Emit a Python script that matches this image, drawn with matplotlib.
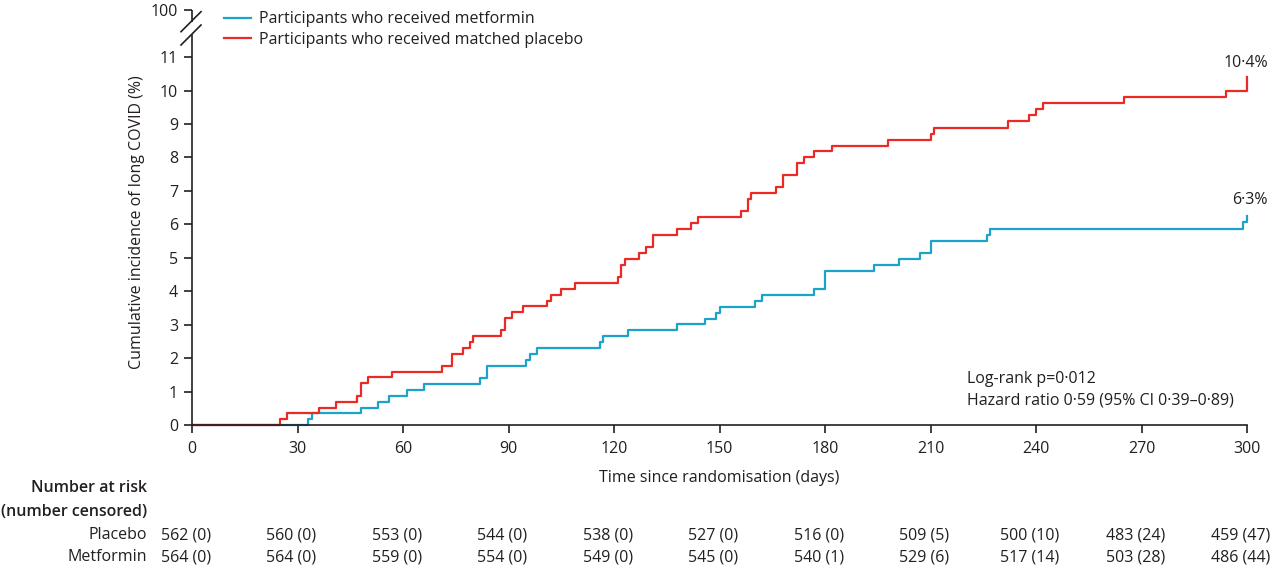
import matplotlib
matplotlib.use("Agg")
import matplotlib.pyplot as plt
from matplotlib.lines import Line2D
from matplotlib.transforms import blended_transform_factory, offset_copy

plt.rcParams['font.family'] = ['Open Sans', 'DejaVu Sans']

# Kaplan-Meier style cumulative incidence (%)
placebo_days = [0, 25, 27, 36, 41, 47, 48, 50, 57, 71, 74, 77, 79, 80, 88, 89, 91, 94,
                101, 102, 105, 109, 121, 122, 123, 127, 129, 131, 138, 142, 144, 156,
                158, 159, 166, 168, 172, 174, 177, 182, 198, 210, 211, 232, 238, 240,
                242, 265, 294, 300]
placebo_inc = [0, 0.18, 0.36, 0.53, 0.71, 0.89, 1.25, 1.43, 1.60, 1.78, 2.14, 2.31, 2.49,
               2.67, 2.85, 3.20, 3.38, 3.56, 3.72, 3.90, 4.08, 4.26, 4.44, 4.80, 4.98,
               5.16, 5.33, 5.69, 5.86, 6.04, 6.22, 6.40, 6.75, 6.93, 7.11, 7.47, 7.83,
               8.00, 8.18, 8.35, 8.53, 8.71, 8.89, 9.09, 9.26, 9.44, 9.63, 9.81, 9.99,
               10.39]

metformin_days = [0, 33, 34, 48, 53, 56, 61, 66, 82, 84, 95, 96, 98, 116, 117, 124, 138,
                  146, 149, 150, 160, 162, 177, 180, 194, 201, 207, 210, 226, 227, 299, 300]
metformin_inc = [0, 0.18, 0.36, 0.53, 0.71, 0.89, 1.06, 1.24, 1.42, 1.77, 1.95, 2.13,
                 2.30, 2.48, 2.66, 2.84, 3.02, 3.18, 3.36, 3.54, 3.72, 3.90, 4.08, 4.62,
                 4.80, 4.98, 5.16, 5.50, 5.68, 5.86, 6.06, 6.25]

# number at risk table
risk_days = [0, 30, 60, 90, 120, 150, 180, 210, 240, 270, 300]
placebo_risk = [562, 560, 553, 544, 538, 527, 516, 509, 500, 483, 459]
placebo_cens = [0, 0, 0, 0, 0, 0, 0, 5, 10, 24, 47]
metformin_risk = [564, 564, 559, 554, 549, 545, 540, 529, 517, 503, 486]
metformin_cens = [0, 0, 0, 0, 0, 0, 1, 6, 14, 28, 44]

final_labels = ['10·4%', '6·3%']

red = '#ec2a25'
blue = '#1ba3c9'
ink = '#231f20'
fs = 11.5
W, H = 1280, 568

fig = plt.figure(figsize=(12.8, 5.68), dpi=100)
ax = fig.add_axes([192 / W, 1 - 425.3 / H, (1247 - 192) / W, (425.3 - 10.2) / H])

ax.step(metformin_days, metformin_inc, where='post', color=blue, lw=1.6, clip_on=False)
ax.step(placebo_days, placebo_inc, where='post', color=red, lw=1.6, clip_on=False)

ax.set_xlim(0, 300)
ax.set_ylim(0, 12.4)
ax.set_xticks(risk_days)
ax.set_yticks(list(range(12)) + [12.4])
ax.set_yticklabels([str(i) for i in range(12)] + ['100'])
ax.tick_params(axis='both', direction='out', length=6, width=1.2, labelsize=fs,
               colors=ink)
ax.tick_params(axis='x', pad=5)
ax.tick_params(axis='y', pad=4)
for s in ['top', 'right']:
    ax.spines[s].set_visible(False)
for s in ['left', 'bottom']:
    ax.spines[s].set_linewidth(1.2)
    ax.spines[s].set_color(ink)
ax.spines['left'].set_bounds(0, 11.66)
ax.plot([0, 0], [12.06, 12.4], color=ink, lw=1.2, clip_on=False,
        solid_capstyle='butt')


def px(x, y):
    return x / W, 1 - y / H


# axis break marks
for y0 in [31.7, 45]:
    (x1, y1), (x2, y2) = px(181, y0), px(201, y0 - 20)
    fig.add_artist(Line2D([x1, x2], [y1, y2], transform=fig.transFigure,
                          color=ink, lw=1.2))

ax.set_xlabel('Time since randomisation (days)', fontsize=fs, color=ink, labelpad=10)
ax.set_ylabel('Cumulative incidence of long COVID (%)', fontsize=fs, color=ink)
ax.yaxis.set_label_coords(-0.045, 0.49)

# end labels
ax.text(306, 10.82, final_labels[0], ha='right', va='center', fontsize=fs,
        color=ink, clip_on=False)
ax.text(306, 6.73, final_labels[1], ha='right', va='center', fontsize=fs,
        color=ink, clip_on=False)

ax.text(0.735, 0.112, 'Log-rank p=0·012', transform=ax.transAxes, fontsize=fs,
        color=ink, va='center')
ax.text(0.735, 0.060, 'Hazard ratio 0·59 (95% CI 0·39–0·89)', transform=ax.transAxes,
        fontsize=fs, color=ink, va='center')

handles = [Line2D([], [], color=blue, lw=1.6), Line2D([], [], color=red, lw=1.6)]
fig.legend(handles, ['Participants who received metformin',
                     'Participants who received matched placebo'],
           loc='upper left', bbox_to_anchor=px(213, 0), frameon=False, fontsize=fs,
           handlelength=1.7, handletextpad=0.5, labelspacing=0.3, borderpad=0.2,
           labelcolor=ink)

# number at risk table
tr = offset_copy(blended_transform_factory(ax.transData, fig.transFigure), fig=fig,
                 x=-6, y=0, units='dots')
lab_x = 147 / W
fig.text(lab_x, 1 - 488 / H, 'Number at risk', ha='right', va='center', fontsize=fs,
         fontweight='semibold', color=ink)
fig.text(lab_x, 1 - 512 / H, '(number censored)', ha='right', va='center', fontsize=fs,
         fontweight='semibold', color=ink)
fig.text(lab_x, 1 - 535 / H, 'Placebo', ha='right', va='center', fontsize=fs, color=ink)
fig.text(lab_x, 1 - 557 / H, 'Metformin', ha='right', va='center', fontsize=fs,
         color=ink)
for d, n, c in zip(risk_days, placebo_risk, placebo_cens):
    ax.text(d, 1 - 535 / H, f'{n} ({c})', transform=tr, ha='center', va='center',
            fontsize=fs, color=ink)
for d, n, c in zip(risk_days, metformin_risk, metformin_cens):
    ax.text(d, 1 - 557 / H, f'{n} ({c})', transform=tr, ha='center', va='center',
            fontsize=fs, color=ink)

fig.savefig('out.png', dpi=100)
